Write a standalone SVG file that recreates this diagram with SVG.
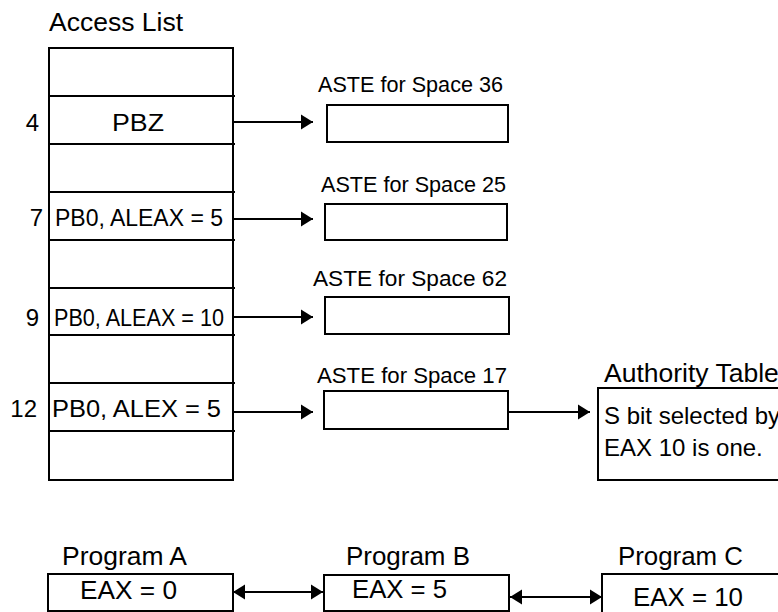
<svg xmlns="http://www.w3.org/2000/svg" width="778" height="612" viewBox="0 0 778 612">
<style>
text{font-family:"Liberation Sans",Arial,sans-serif;fill:#000}
.t26{font-size:26.5px}
.t24{font-size:24px}
.t22{font-size:22.5px}
.box{fill:#fff;stroke:#000;stroke-width:2}
.ln{stroke:#000;stroke-width:2;fill:none}
</style>
<defs>
<marker id="ah" markerUnits="userSpaceOnUse" markerWidth="13" markerHeight="16" refX="12" refY="8" orient="auto-start-reverse" overflow="visible">
<path d="M0,0.5 L12,8 L0,15.5 z" fill="#000" stroke="none"/>
</marker>
</defs>
<rect width="778" height="612" fill="#fff"/>
<g id="access-list">
<text class="t26" x="49" y="31" textLength="134" lengthAdjust="spacingAndGlyphs">Access List</text>
<rect class="box" x="49" y="48" width="184" height="432"/>
<g class="ln">
<line x1="49" y1="96" x2="235" y2="96"/>
<line x1="49" y1="144" x2="235" y2="144"/>
<line x1="49" y1="192" x2="235" y2="192"/>
<line x1="49" y1="240" x2="235" y2="240"/>
<line x1="49" y1="288" x2="235" y2="288"/>
<line x1="49" y1="335" x2="235" y2="335"/>
<line x1="49" y1="383" x2="235" y2="383"/>
<line x1="49" y1="431" x2="235" y2="431"/>
</g>
<text class="t24" x="39" y="131" text-anchor="end">4</text>
<text class="t24" x="112" y="131" textLength="52" lengthAdjust="spacingAndGlyphs">PBZ</text>
<text class="t24" x="43" y="226" text-anchor="end">7</text>
<text class="t24" x="55" y="226" textLength="168" lengthAdjust="spacingAndGlyphs">PB0, ALEAX = 5</text>
<text class="t24" x="39" y="326" text-anchor="end">9</text>
<text class="t24" x="54" y="326" textLength="170" lengthAdjust="spacingAndGlyphs">PB0, ALEAX = 10</text>
<text class="t24" x="37" y="417" text-anchor="end">12</text>
<text class="t24" x="52" y="417" textLength="169" lengthAdjust="spacingAndGlyphs">PB0, ALEX = 5</text>
</g>
<g id="aste36">
<text class="t22" x="318" y="92" textLength="185" lengthAdjust="spacingAndGlyphs">ASTE for Space 36</text>
<rect class="box" x="327" y="105" width="181" height="37"/>
</g>
<g id="aste25">
<text class="t22" x="321" y="192" textLength="185" lengthAdjust="spacingAndGlyphs">ASTE for Space 25</text>
<rect class="box" x="325" y="204" width="182" height="36"/>
</g>
<g id="aste62">
<text class="t22" x="313" y="286" textLength="194" lengthAdjust="spacingAndGlyphs">ASTE for Space 62</text>
<rect class="box" x="325" y="297" width="184" height="37"/>
</g>
<g id="aste17">
<text class="t22" x="317" y="383" textLength="190" lengthAdjust="spacingAndGlyphs">ASTE for Space 17</text>
<rect class="box" x="324" y="391" width="184" height="38"/>
</g>
<g id="authority-table">
<text class="t26" x="604" y="382">Authority Table</text>
<rect class="box" x="598" y="388" width="190" height="92"/>
<text class="t24" x="604" y="424">S bit selected by</text>
<text class="t24" x="604" y="456">EAX 10 is one.</text>
</g>
<g id="program-a">
<text class="t26" x="62" y="565" textLength="125" lengthAdjust="spacingAndGlyphs">Program A</text>
<rect class="box" x="48" y="574" width="185" height="37"/>
<text class="t26" x="80" y="599" textLength="97" lengthAdjust="spacingAndGlyphs">EAX = 0</text>
</g>
<g id="program-b">
<text class="t26" x="346" y="565" textLength="124" lengthAdjust="spacingAndGlyphs">Program B</text>
<rect class="box" x="324" y="575" width="185" height="36"/>
<text class="t26" x="352" y="598" textLength="95" lengthAdjust="spacingAndGlyphs">EAX = 5</text>
</g>
<g id="program-c">
<text class="t26" x="618" y="565" textLength="125" lengthAdjust="spacingAndGlyphs">Program C</text>
<rect class="box" x="602" y="574" width="186" height="40"/>
<text class="t26" x="633" y="606" textLength="110" lengthAdjust="spacingAndGlyphs">EAX = 10</text>
</g>
<g id="connectors" class="ln">
<line x1="233" y1="122" x2="313" y2="122" marker-end="url(#ah)"/>
<line x1="233" y1="219" x2="313" y2="219" marker-end="url(#ah)"/>
<line x1="233" y1="317" x2="313" y2="317" marker-end="url(#ah)"/>
<line x1="233" y1="412" x2="313" y2="412" marker-end="url(#ah)"/>
<line x1="508" y1="412" x2="590" y2="412" marker-end="url(#ah)"/>
<line x1="233" y1="592" x2="323" y2="592" marker-start="url(#ah)" marker-end="url(#ah)"/>
<line x1="510" y1="597" x2="602" y2="597" marker-start="url(#ah)" marker-end="url(#ah)"/>
</g>
</svg>
